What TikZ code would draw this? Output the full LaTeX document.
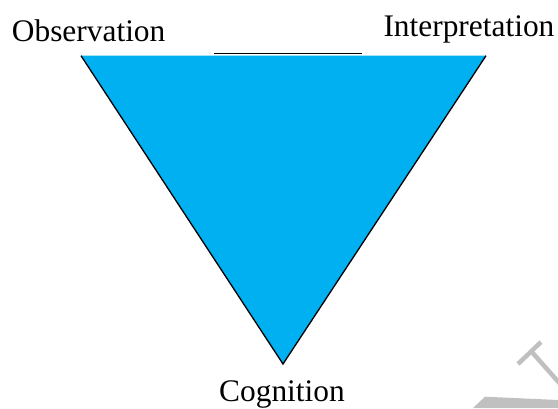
\documentclass[tikz,border=0pt]{standalone}
\usepackage{fontspec}
\setmainfont{Liberation Serif}
\definecolor{wedgeblue}{RGB}{0,176,240}
\definecolor{wmgray}{RGB}{192,192,192}
\begin{document}
\begin{tikzpicture}[x=1pt,y=-1pt,
  lbl/.style={font=\fontsize{31.4}{36}\selectfont,inner sep=0pt,anchor=base west}]
\useasboundingbox (0,0) rectangle (558,408);
\coordinate (obs) at (81,55.7);
\coordinate (int) at (486,55.7);
\coordinate (cog) at (283,364);
\coordinate (topa) at (214,53.3);
\coordinate (topb) at (362,53.3);
\fill[wedgeblue] (obs) -- (int) -- (cog) -- cycle;
\draw[line width=1.3pt] (obs) -- (cog) -- (int);
\draw[line width=1.3pt] (topa) -- (topb);
\fill[wmgray] (473,408) -- (485,396.7) -- (558,400) -- (558,408) -- cycle;
\draw[wmgray,line width=4.5pt] (518,364) -- (541,342);
\draw[wmgray,line width=4.5pt] (531,351) -- (562,386);
\node[lbl] (obstext) at (11.7,41.7) {Observation};
\node[lbl] (inttext) at (383.3,36.7) {Interpretation};
\node[lbl,anchor=base] (cogtext) at (282,401) {Cognition};
\end{tikzpicture}
\end{document}
